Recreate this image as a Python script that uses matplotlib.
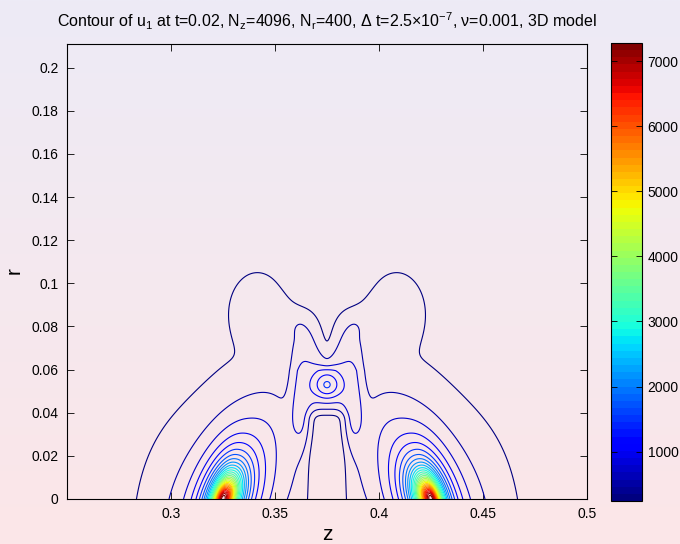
import numpy as np
import matplotlib
matplotlib.use('Agg')
import matplotlib.pyplot as plt
from matplotlib import cm
from matplotlib.colors import Normalize

plt.rcParams['font.family'] = ['Liberation Sans', 'DejaVu Sans']
plt.rcParams['mathtext.fontset'] = 'custom'
plt.rcParams['mathtext.rm'] = 'Liberation Sans'
plt.rcParams['mathtext.it'] = 'Liberation Sans:italic'

# ---------------- axes and colour scale ----------------
z_range = (0.25, 0.5)
r_range = (0.0, 0.211)
z_ticks = [0.3, 0.35, 0.4, 0.45, 0.5]
r_ticks = [0, 0.02, 0.04, 0.06, 0.08, 0.1, 0.12, 0.14, 0.16, 0.18, 0.2]
cbar_ticks = [1000, 2000, 3000, 4000, 5000, 6000, 7000]
c_min, c_max = 240.0, 7280.0
level_first, level_step, n_levels = 240.0, 242.8, 30

# ---------------- u1 field, built from its parts ----------------
# two strong maxima on the axis r=0
core_z = [0.325, 0.425]
core_side = [1.0, -1.0]           # direction pointing to the mid plane
core_amp = [7400.0, 7400.0]
core_q = 0.85
core_w_out = 0.0045
core_w_in = 0.0055
core_w_in_r = 0.05
core_wr = 0.0094
core_shear = 0.28
core_rcut = 0.15

# faint skirts on the outer flanks
skirt_z = [0.300, 0.450]
skirt_amp = [80.0, 80.0]
skirt_wz = [0.015, 0.015]
skirt_wr = [0.030, 0.030]

# humps above the maxima
lobe_z = [0.341, 0.409]
lobe_r = [0.089, 0.089]
lobe_amp = [200.0, 200.0]
lobe_wz = [0.015, 0.015]
lobe_wr = [0.020, 0.020]

# diagonal ridges from the humps down to the centre
ridge_z = [0.354, 0.396]
ridge_r = [0.087, 0.087]
ridge_amp = [90.0, 90.0]
ridge_dir = [(0.743, -0.669), (-0.743, -0.669)]
ridge_wa, ridge_wb = 0.016, 0.0065

# shelves between the maxima and the centre
bridge_z = [0.349, 0.401]
bridge_r = [0.037, 0.037]
bridge_amp = [90.0, 90.0]
bridge_wz = [0.008, 0.008]
bridge_wr = [0.012, 0.012]

# plateau around the off-axis maximum
box_z, box_r, box_amp = 0.375, 0.056, 570.0
box_wz, box_wr = 0.0175, 0.030

# V-shaped notch cut into the top of the central structure
notch_z, notch_r0, notch_len, notch_depth = 0.375, 0.0595, 0.008, 1.0
notch_lz, notch_eps = 0.0075, 0.0015

# small off-axis maximum
bump_z, bump_r, bump_amp, bump_w = 0.375, 0.0526, 730.0, 0.0045

# low column on the axis between the maxima
col_z, col_depth, col_wz = 0.375, 0.866, 0.0081
col_r1, col_len, col_soft = 0.0383, 0.0056, 0.001


z = np.linspace(z_range[0], z_range[1], 1001)
r = np.linspace(r_range[0], r_range[1], 845)
Z, R = np.meshgrid(z, r)

u = np.zeros_like(Z)
for zc, side, a in zip(core_z, core_side, core_amp):
    dz = side*(Z - zc) - core_shear*R
    w_in = core_w_out + (core_w_in - core_w_out)*np.exp(-(R/core_w_in_r)**4)
    w = np.where(dz > 0, w_in, core_w_out)
    d2 = (dz/w)**2 + (R/core_wr)**2
    u += a/(1 + d2)**core_q*np.exp(-(R/core_rcut)**2)

for zc, a, wz, wr in zip(skirt_z, skirt_amp, skirt_wz, skirt_wr):
    u += a*np.exp(-0.5*((Z - zc)/wz)**2 - 0.5*(R/wr)**2)

for zc, rc, a, wz, wr in zip(lobe_z, lobe_r, lobe_amp, lobe_wz, lobe_wr):
    rho2 = ((Z - zc)/wz)**2 + ((R - rc)/wr)**2
    u += a*np.exp(-rho2**2)

for zc, rc, a, (cz, cr) in zip(ridge_z, ridge_r, ridge_amp, ridge_dir):
    along = ((Z - zc)*cz + (R - rc)*cr)/ridge_wa
    across = (-(Z - zc)*cr + (R - rc)*cz)/ridge_wb
    u += a*np.exp(-(along**2 + across**2)**2)

for zc, rc, a, wz, wr in zip(bridge_z, bridge_r, bridge_amp, bridge_wz, bridge_wr):
    u += a*np.exp(-0.5*((Z - zc)/wz)**2 - 0.5*((R - rc)/wr)**2)

zn = (Z - box_z)/box_wz
rn = (R - box_r)/box_wr
u += box_amp*np.exp(-np.abs(zn)**6 - rn**4)

u += bump_amp*np.exp(-0.5*((Z - bump_z)**2 + (R - bump_r)**2)/bump_w**2)

notch_g = np.exp(-np.sqrt((Z - notch_z)**2 + notch_eps**2)/notch_lz)
notch = notch_depth*notch_g \
    * (1 - np.exp(-np.clip(R - notch_r0, 0, None)/notch_len))
u *= 1 - notch

# soft step in r for the column top
soft = col_soft*np.log1p(np.exp((R - col_r1)/col_soft))
col_r = np.exp(-soft/col_len)
col_g = np.exp(-0.5*((Z - col_z)/col_wz)**4)
u *= 1 - col_depth*col_g*col_r

levels = level_first + level_step*np.arange(n_levels)

# ---------------- figure ----------------
fig = plt.figure(figsize=(6.8, 5.44), dpi=100)

# vertical background shading
bg = fig.add_axes([0, 0, 1, 1], zorder=-10)
top_rgb = np.array([237, 235, 246])/255.0
bot_rgb = np.array([252, 230, 232])/255.0
t = np.linspace(0, 1, 256)[:, None]
grad = (1 - t)*top_rgb + t*bot_rgb
bg.imshow(grad[:, None, :].repeat(2, axis=1), aspect='auto',
          extent=[0, 1, 0, 1])
bg.axis('off')

jet64 = plt.get_cmap('jet', 64)
norm = Normalize(vmin=c_min, vmax=c_max)

ax = fig.add_axes([67/680, 45/544, 520/680, 455/544])
ax.set_facecolor('none')
ax.contour(Z, R, u, levels=levels, cmap=jet64, norm=norm, linewidths=0.8)
ax.set_xlim(*z_range)
ax.set_ylim(*r_range)
ax.set_xticks(z_ticks)
ax.set_yticks(r_ticks)
ax.set_xticklabels(['%g' % v for v in z_ticks])
ax.set_yticklabels(['%g' % v for v in r_ticks])
ax.tick_params(direction='in', top=True, right=True, length=5,
               width=0.6, labelsize=10, pad=6)
for sp in ax.spines.values():
    sp.set_linewidth(0.8)
fig.text(327/680, 1 - 535/544, 'z', ha='center', va='center', fontsize=15)
fig.text(14/680, 1 - 271/544, 'r', ha='center', va='center', fontsize=15,
         rotation=90)
ax.set_title('Contour of u$_1$ at t=0.02, N$_\\mathrm{z}$=4096, '
             'N$_\\mathrm{r}$=400, \u0394 t=2.5\u00d710$^{-7}$, '
             '\u03bd=0.001, 3D model', fontsize=11.5, pad=12)

cax = fig.add_axes([611/680, 43/544, 31/680, 458/544])
sm = cm.ScalarMappable(norm=norm, cmap=jet64)
cb = fig.colorbar(sm, cax=cax, ticks=cbar_ticks)
cb.outline.set_linewidth(0.8)
cax.yaxis.set_ticks_position('both')
cax.tick_params(direction='in', length=4, width=0.6, labelsize=10,
                labelleft=False, labelright=True, pad=4)

fig.savefig('out.png', dpi=100)
